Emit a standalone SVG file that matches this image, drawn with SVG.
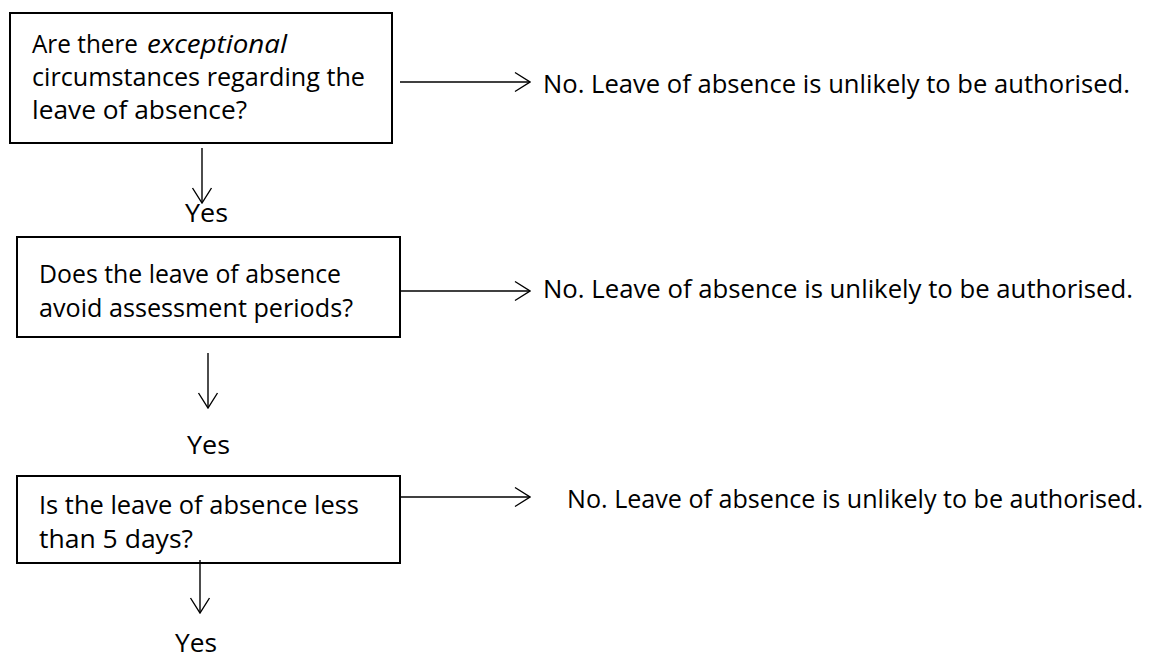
<svg xmlns="http://www.w3.org/2000/svg" width="1156" height="657" viewBox="0 0 1156 657">
<style>
  .box { fill: #ffffff; stroke: #000000; stroke-width: 2; }
  .t { font-family: "Open Sans", "Liberation Sans", sans-serif; font-size: 25px; fill: #000000; }
  .it { font-style: italic; }
  .conn { fill: none; stroke: #000000; stroke-width: 1.4; marker-end: url(#arrow); }
</style>
<defs>
  <marker id="arrow" markerUnits="userSpaceOnUse" viewBox="0 0 17 22" refX="16" refY="11" markerWidth="17" markerHeight="22" orient="auto">
    <path d="M1,1.5 L16,11 L1,20.5" fill="none" stroke="#000000" stroke-width="1.4"/>
  </marker>
</defs>
<rect x="0" y="0" width="1156" height="657" fill="#ffffff"/>

<g id="q1">
  <rect class="box" x="10" y="13" width="382" height="130"/>
  <text class="t" x="32" y="53" textLength="106" lengthAdjust="spacingAndGlyphs">Are there</text>
  <text class="t it" x="147" y="53" textLength="140" lengthAdjust="spacingAndGlyphs">exceptional</text>
  <text class="t" x="32" y="86" textLength="333" lengthAdjust="spacingAndGlyphs">circumstances regarding the</text>
  <text class="t" x="32" y="119" textLength="215" lengthAdjust="spacingAndGlyphs">leave of absence?</text>
</g>

<g id="no1">
  <text class="t" x="543" y="93" textLength="587" lengthAdjust="spacingAndGlyphs">No. Leave of absence is unlikely to be authorised.</text>
</g>

<g id="yes1">
  <text class="t" x="185" y="222" textLength="43" lengthAdjust="spacingAndGlyphs">Yes</text>
</g>

<g id="q2">
  <rect class="box" x="17" y="237" width="383" height="100"/>
  <text class="t" x="39" y="283" textLength="302" lengthAdjust="spacingAndGlyphs">Does the leave of absence</text>
  <text class="t" x="39" y="317" textLength="314" lengthAdjust="spacingAndGlyphs">avoid assessment periods?</text>
</g>

<g id="no2">
  <text class="t" x="543" y="298" textLength="590" lengthAdjust="spacingAndGlyphs">No. Leave of absence is unlikely to be authorised.</text>
</g>

<g id="yes2">
  <text class="t" x="187" y="454" textLength="43" lengthAdjust="spacingAndGlyphs">Yes</text>
</g>

<g id="q3">
  <rect class="box" x="17" y="476" width="383" height="87"/>
  <text class="t" x="39" y="514" textLength="320" lengthAdjust="spacingAndGlyphs">Is the leave of absence less</text>
  <text class="t" x="39" y="548" textLength="154" lengthAdjust="spacingAndGlyphs">than 5 days?</text>
</g>

<g id="no3">
  <text class="t" x="567" y="508" textLength="576" lengthAdjust="spacingAndGlyphs">No. Leave of absence is unlikely to be authorised.</text>
</g>

<g id="yes3">
  <text class="t" x="175" y="652" textLength="42" lengthAdjust="spacingAndGlyphs">Yes</text>
</g>

<g id="connectors">
  <path class="conn" d="M400,82 H530"/>
  <path class="conn" d="M400,291 H530"/>
  <path class="conn" d="M400,497 H530"/>
  <path class="conn" d="M202,148 V203"/>
  <path class="conn" d="M208,353 V408"/>
  <path class="conn" d="M200,560 V613"/>
</g>
</svg>
